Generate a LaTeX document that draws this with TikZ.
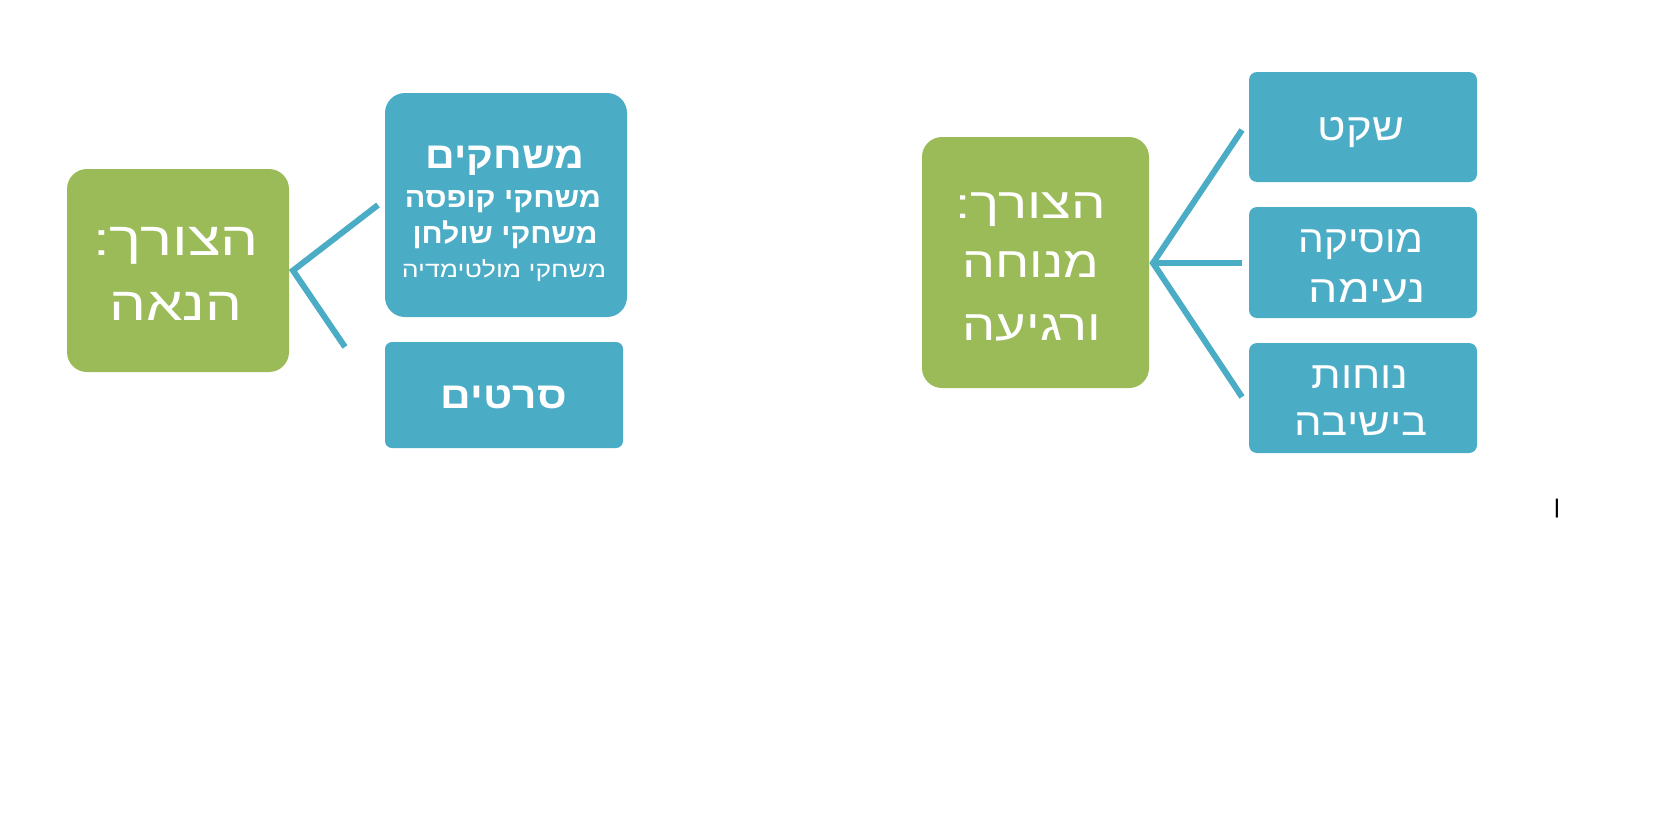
\documentclass[tikz,border=0pt]{standalone}
\usepackage{fontspec}
\usetikzlibrary{calc}
\TeXXeTstate=1
\newfontfamily\heb[Script=Hebrew]{Liberation Sans}
\definecolor{sagreen}{HTML}{9BBB59}
\definecolor{sablue}{HTML}{4BACC6}
\tikzset{
  needbox/.style={fill=sagreen, draw=none, rounded corners=20pt, inner sep=0pt, outer sep=0pt},
  bigbluebox/.style={fill=sablue, draw=none, rounded corners=20pt, inner sep=0pt, outer sep=0pt},
  bluebox/.style={fill=sablue, draw=none, rounded corners=7pt, inner sep=0pt, outer sep=0pt},
  conn/.style={draw=sablue, line width=6pt, line join=miter, line cap=butt},
  txt/.style={text=white, anchor=base, inner sep=0pt, outer sep=0pt},
}
\begin{document}
\begin{tikzpicture}[x=1pt,y=-1pt]
\useasboundingbox[fill=white] (0,0) rectangle (1671,825);

% ---- left group ----
\node[needbox, minimum width=222pt, minimum height=203pt] (needL) at (178,270.5) {};
\node[bigbluebox, minimum width=242pt, minimum height=224pt] (games) at (506,205) {};
\node[bluebox, minimum width=238pt, minimum height=106pt] (movies) at (504,395) {};

\coordinate (vL) at ($(needL.east)+(4,0)$);
\coordinate (endL1) at (378,205);
\coordinate (endL2) at (345,347);
\draw[conn] (endL1) -- (vL) -- (endL2);

\node[txt, font=\heb\fontsize{47}{56}\selectfont] (tL1) at (176,255) {\scalebox{1.28}[1]{\beginR הצורך:\endR}};
\node[txt, font=\heb\fontsize{47}{56}\selectfont] (tL2) at (176,320) {\scalebox{1.24}[1]{\beginR הנאה\endR}};

\node[txt, font=\heb\bfseries\fontsize{37}{44}\selectfont] (tG1) at (505,168) {\scalebox{1.11}[1]{\beginR משחקים\endR}};
\node[txt, font=\heb\bfseries\fontsize{28}{34}\selectfont] (tG2) at (503,207) {\scalebox{1.09}[1]{\beginR משחקי קופסה\endR}};
\node[txt, font=\heb\bfseries\fontsize{28}{34}\selectfont] (tG3) at (505,243) {\scalebox{1.08}[1]{\beginR משחקי שולחן\endR}};
\node[txt, font=\heb\fontsize{22}{26}\selectfont] (tG4) at (504,277) {\scalebox{1.21}[1]{\beginR משחקי מולטימדיה\endR}};

\node[txt, font=\heb\bfseries\fontsize{37}{44}\selectfont] (tM) at (504,408) {\scalebox{1.15}[1]{\beginR סרטים\endR}};

% ---- right group ----
\node[needbox, minimum width=227pt, minimum height=251pt] (needR) at (1035.5,262.5) {};
\node[bluebox, rounded corners=8pt, minimum width=228pt, minimum height=110pt] (quiet) at (1363,127) {};
\node[bluebox, rounded corners=8pt, minimum width=228pt, minimum height=111pt] (music) at (1363,262.5) {};
\node[bluebox, rounded corners=8pt, minimum width=228pt, minimum height=110pt] (seat) at (1363,398) {};

\coordinate (vR) at ($(needR.east)+(4,0.5)$);
\coordinate (endR1) at (1242,130);
\coordinate (endR2) at (1242,263);
\coordinate (endR3) at (1242,397);
\draw[conn] (endR1) -- (vR) -- (endR3);
\draw[conn] (vR) -- (endR2);

\node[txt, font=\heb\fontsize{43}{52}\selectfont] (tR1) at (1031,218) {\scalebox{1.27}[1]{\beginR הצורך:\endR}};
\node[txt, font=\heb\fontsize{43}{52}\selectfont] (tR2) at (1031,277) {\scalebox{1.21}[1]{\beginR מנוחה\endR}};
\node[txt, font=\heb\fontsize{43}{52}\selectfont] (tR3) at (1032,340) {\scalebox{1.22}[1]{\beginR ורגיעה\endR}};

\node[txt, font=\heb\fontsize{38}{46}\selectfont] (tQ) at (1361,140) {\scalebox{1.15}[1]{\beginR שקט\endR}};
\node[txt, font=\heb\fontsize{38}{46}\selectfont] (tMu1) at (1361,252) {\scalebox{1.07}[1]{\beginR מוסיקה\endR}};
\node[txt, font=\heb\fontsize{38}{46}\selectfont] (tMu2) at (1367,302) {\scalebox{1.22}[1]{\beginR נעימה\endR}};
\node[txt, font=\heb\fontsize{38}{46}\selectfont] (tS1) at (1360,388) {\scalebox{1.13}[1]{\beginR נוחות\endR}};
\node[txt, font=\heb\fontsize{38}{46}\selectfont] (tS2) at (1361,435) {\scalebox{1.15}[1]{\beginR בישיבה\endR}};

% stray mark
\node[anchor=base, inner sep=0pt, text=black, font=\heb\fontsize{24}{28}\selectfont] (nun) at (1557,513) {\beginR ן\endR};
\end{tikzpicture}
\end{document}
